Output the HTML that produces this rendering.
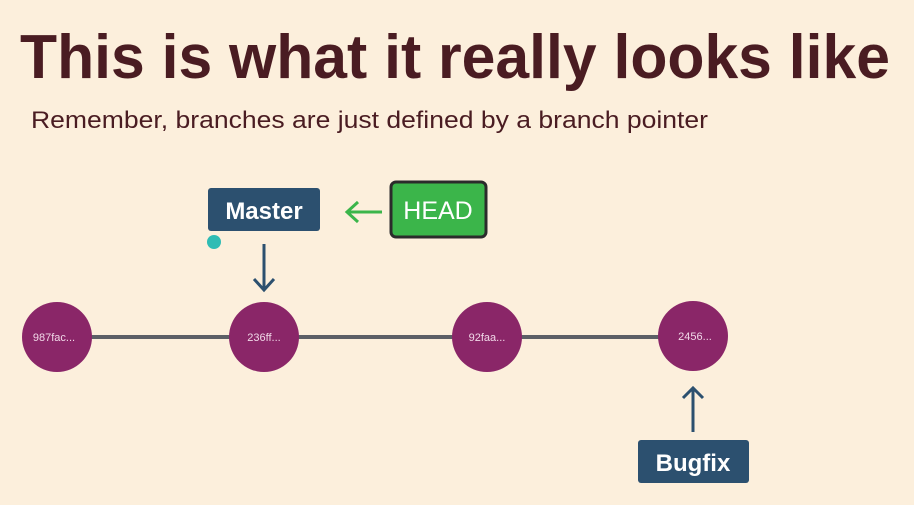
<!DOCTYPE html>
<html><head><meta charset="utf-8"><style>
html,body{margin:0;padding:0;background:#fcefdc;}
svg{display:block}
</style></head><body>
<svg width="914" height="505" viewBox="0 0 914 505" xmlns="http://www.w3.org/2000/svg" font-family="Liberation Sans, sans-serif">
<rect width="914" height="505" fill="#fcefdc"/>
<text x="20" y="78" font-size="62" font-weight="bold" fill="#4a1c22" textLength="870" lengthAdjust="spacingAndGlyphs">This is what it really looks like</text>
<text x="31" y="128" font-size="24" fill="#4a1c22" textLength="677" lengthAdjust="spacingAndGlyphs">Remember, branches are just defined by a branch pointer</text>
<line x1="57" y1="337" x2="693" y2="337" stroke="#5c5f66" stroke-width="4"/>
<g fill="#8a2668">
<circle cx="57" cy="337" r="35"/><circle cx="264" cy="337" r="35"/><circle cx="487" cy="337" r="35"/><circle cx="693" cy="336" r="35"/>
</g>
<g fill="#f1d8e8" font-size="11" text-anchor="middle">
<text x="54" y="341">987fac...</text><text x="264" y="341">236ff...</text><text x="487" y="341">92faa...</text><text x="695" y="340">2456...</text>
</g>
<rect x="208" y="188" width="112" height="43" rx="3" fill="#2c506f"/>
<text x="264" y="219" font-size="24" font-weight="bold" fill="#fff" text-anchor="middle">Master</text>
<rect x="391" y="182" width="95" height="55" rx="5" fill="#3bb54a" stroke="#2b2b2b" stroke-width="3"/>
<text x="438" y="219" font-size="25" fill="#fff" text-anchor="middle">HEAD</text>
<g stroke="#3bb54a" stroke-width="3" fill="none"><line x1="382" y1="212" x2="347" y2="212"/><polyline points="358,202 347,212 358,222"/></g>
<g stroke="#2c506f" stroke-width="3" fill="none"><line x1="264" y1="244" x2="264" y2="290"/><polyline points="254,279 264,290 274,279"/></g>
<circle cx="214" cy="242" r="7" fill="#2fbcb4"/>
<g stroke="#2c506f" stroke-width="3" fill="none"><line x1="693" y1="432" x2="693" y2="388"/><polyline points="683,398 693,388 703,398"/></g>
<rect x="638" y="440" width="111" height="43" rx="3" fill="#2c506f"/>
<text x="693" y="471" font-size="24" font-weight="bold" fill="#fff" text-anchor="middle">Bugfix</text>
</svg>
</body></html>
